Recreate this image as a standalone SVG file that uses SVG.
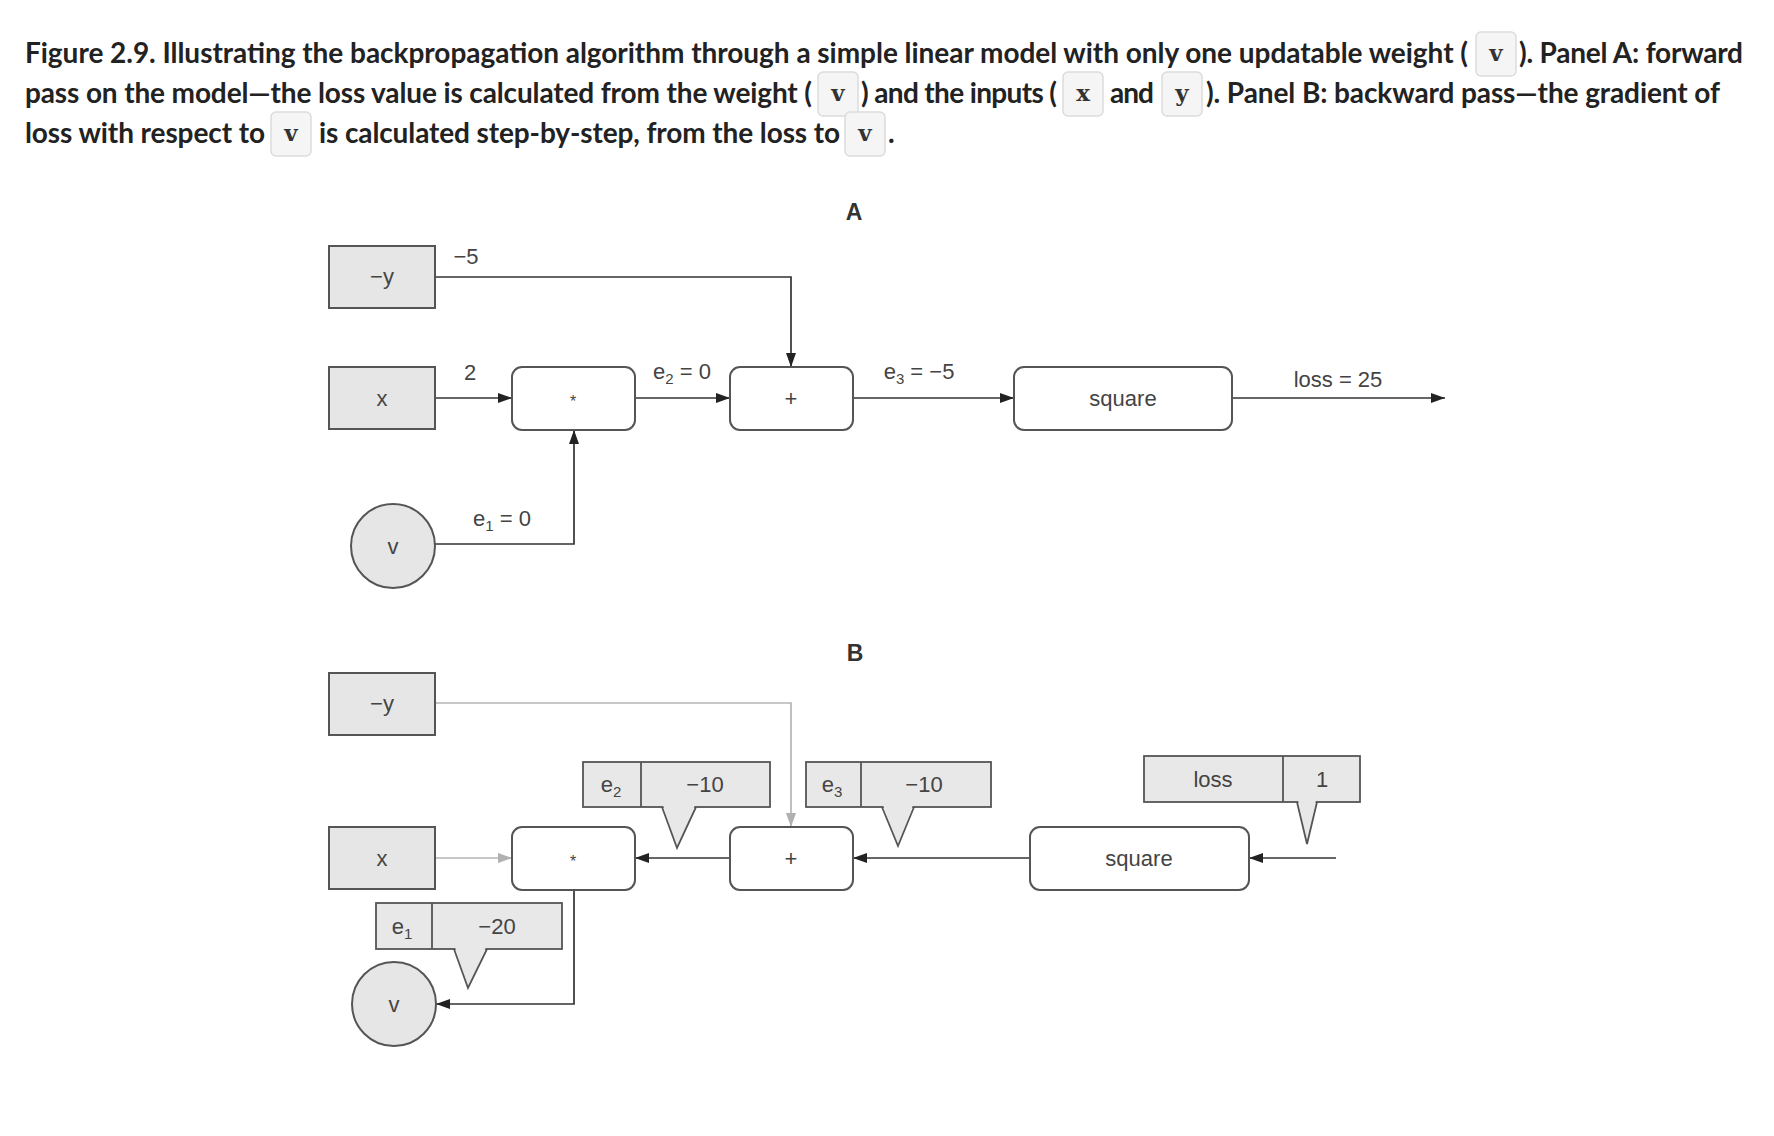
<svg xmlns="http://www.w3.org/2000/svg" width="1774" height="1136" viewBox="0 0 1774 1136">
<style>
.title{font-family:Lato,"Open Sans","Liberation Sans",sans-serif;font-weight:700;font-size:28px;fill:#222}
.code{font-family:"DejaVu Serif","Liberation Serif",serif;font-weight:700;font-size:23px;fill:#333;text-anchor:middle}
.cbox{fill:#f5f5f5;stroke:#dcdcdc;stroke-width:1.5}
.lbl{font-family:"Liberation Sans",Arial,sans-serif;font-size:22px;fill:#444;text-anchor:middle}
.sub{font-size:15px}
.panel{font-family:"Liberation Sans",Arial,sans-serif;font-size:23px;font-weight:700;fill:#333;text-anchor:middle}
.inp{fill:#e6e6e6;stroke:#555;stroke-width:2}
.op{fill:#fff;stroke:#555;stroke-width:2}
.call{fill:#e8e8e8;stroke:#555;stroke-width:1.8}
.ptr{fill:none;stroke:#555;stroke-width:1.8}
.ptrf{fill:#e8e8e8;stroke:none}
.dark{fill:none;stroke:#333;stroke-width:1.7}
.grey{fill:none;stroke:#b5b5b5;stroke-width:1.7}
</style>
<defs>
<marker id="ah" viewBox="0 0 14 10" refX="14" refY="5" markerWidth="14" markerHeight="10" markerUnits="userSpaceOnUse" orient="auto"><path d="M0,0 L14,5 L0,10 z" fill="#222"/></marker>
<marker id="ahg" viewBox="0 0 14 10" refX="14" refY="5" markerWidth="14" markerHeight="10" markerUnits="userSpaceOnUse" orient="auto"><path d="M0,0 L14,5 L0,10 z" fill="#b0b0b0"/></marker>
</defs>
<rect width="1774" height="1136" fill="#fff"/>

<g id="caption">
<text class="title" x="25" y="63" textLength="1443">Figure 2.9. Illustrating the backpropagation algorithm through a simple linear model with only one updatable weight (</text>
<rect class="cbox" x="1476" y="32" width="40" height="44" rx="5"/>
<text class="code" x="1496" y="61">v</text>
<text class="title" x="1519" y="63" textLength="224">). Panel A: forward</text>

<text class="title" x="25" y="103" textLength="787">pass on the model—the loss value is calculated from the weight (</text>
<rect class="cbox" x="818" y="72" width="40" height="44" rx="5"/>
<text class="code" x="838" y="101">v</text>
<text class="title" x="861" y="103" textLength="196">) and the inputs (</text>
<rect class="cbox" x="1063" y="72" width="40" height="44" rx="5"/>
<text class="code" x="1083" y="101">x</text>
<text class="title" x="1110" y="103" textLength="44">and</text>
<rect class="cbox" x="1162" y="72" width="40" height="44" rx="5"/>
<text class="code" x="1182" y="101">y</text>
<text class="title" x="1206" y="103" textLength="514">). Panel B: backward pass—the gradient of</text>

<text class="title" x="25" y="143" textLength="240">loss with respect to</text>
<rect class="cbox" x="271" y="112" width="40" height="44" rx="5"/>
<text class="code" x="291" y="141">v</text>
<text class="title" x="319" y="143" textLength="521">is calculated step-by-step, from the loss to</text>
<rect class="cbox" x="845" y="112" width="40" height="44" rx="5"/>
<text class="code" x="865" y="141">v</text>
<text class="title" x="888" y="143">.</text>
</g>

<text class="panel" x="854" y="220">A</text>
<text class="panel" x="855" y="661">B</text>

<g id="connectors">
<path class="dark" d="M435,277 H791 V367" marker-end="url(#ah)"/>
<path class="dark" d="M435,398 H512" marker-end="url(#ah)"/>
<path class="dark" d="M635,398 H730" marker-end="url(#ah)"/>
<path class="dark" d="M853,398 H1014" marker-end="url(#ah)"/>
<path class="dark" d="M1232,398 H1445" marker-end="url(#ah)"/>
<path class="dark" d="M435,544 H574 V430" marker-end="url(#ah)"/>

<path class="grey" d="M435,703 H791 V827" marker-end="url(#ahg)"/>
<path class="grey" d="M435,858 H512" marker-end="url(#ahg)"/>
<path class="dark" d="M730,858 H635" marker-end="url(#ah)"/>
<path class="dark" d="M1030,858 H853" marker-end="url(#ah)"/>
<path class="dark" d="M1336,858 H1249" marker-end="url(#ah)"/>
<path class="dark" d="M574,890 V1004 H436" marker-end="url(#ah)"/>
</g>

<g id="edge-labels">
<text class="lbl" x="466" y="264">−5</text>
<text class="lbl" x="470" y="380">2</text>
<text class="lbl" x="682" y="379">e<tspan class="sub" dy="5">2</tspan><tspan dy="-5"> = 0</tspan></text>
<text class="lbl" x="919" y="379">e<tspan class="sub" dy="5">3</tspan><tspan dy="-5"> = −5</tspan></text>
<text class="lbl" x="1338" y="387">loss = 25</text>
<text class="lbl" x="502" y="526">e<tspan class="sub" dy="5">1</tspan><tspan dy="-5"> = 0</tspan></text>
</g>

<g id="nodeA-neg-y"><rect class="inp" x="329" y="246" width="106" height="62"/><text class="lbl" x="382" y="284">−y</text></g>
<g id="nodeA-x"><rect class="inp" x="329" y="367" width="106" height="62"/><text class="lbl" x="382" y="406">x</text></g>
<g id="nodeA-mul"><rect class="op" x="512" y="367" width="123" height="63" rx="10"/><text class="lbl" x="573" y="407" style="font-size:16px">*</text></g>
<g id="nodeA-add"><rect class="op" x="730" y="367" width="123" height="63" rx="10"/><text class="lbl" x="791" y="406">+</text></g>
<g id="nodeA-square"><rect class="op" x="1014" y="367" width="218" height="63" rx="10"/><text class="lbl" x="1123" y="406">square</text></g>
<g id="nodeA-v"><circle class="inp" cx="393" cy="546" r="42"/><text class="lbl" x="393" y="554">v</text></g>

<g id="nodeB-neg-y"><rect class="inp" x="329" y="673" width="106" height="62"/><text class="lbl" x="382" y="711">−y</text></g>
<g id="nodeB-x"><rect class="inp" x="329" y="827" width="106" height="62"/><text class="lbl" x="382" y="866">x</text></g>
<g id="nodeB-mul"><rect class="op" x="512" y="827" width="123" height="63" rx="10"/><text class="lbl" x="573" y="867" style="font-size:16px">*</text></g>
<g id="nodeB-add"><rect class="op" x="730" y="827" width="123" height="63" rx="10"/><text class="lbl" x="791" y="866">+</text></g>
<g id="nodeB-square"><rect class="op" x="1030" y="827" width="219" height="63" rx="10"/><text class="lbl" x="1139" y="866">square</text></g>
<g id="nodeB-v"><circle class="inp" cx="394" cy="1004" r="42"/><text class="lbl" x="394" y="1012">v</text></g>

<g id="callout-e2">
<rect class="call" x="583" y="762" width="187" height="45"/>
<line class="ptr" x1="641" y1="762" x2="641" y2="807"/>
<polygon class="ptrf" points="663,805 677,848 695,805"/>
<path class="ptr" d="M662,807 L677,848 L696,807"/>
<text class="lbl" x="611" y="792">e<tspan class="sub" dy="5">2</tspan></text>
<text class="lbl" x="705" y="792">−10</text>
</g>
<g id="callout-e3">
<rect class="call" x="806" y="762" width="185" height="45"/>
<line class="ptr" x1="861" y1="762" x2="861" y2="807"/>
<polygon class="ptrf" points="883,805 898,846 913,805"/>
<path class="ptr" d="M882,807 L898,846 L914,807"/>
<text class="lbl" x="832" y="792">e<tspan class="sub" dy="5">3</tspan></text>
<text class="lbl" x="924" y="792">−10</text>
</g>
<g id="callout-loss">
<rect class="call" x="1144" y="756" width="216" height="46"/>
<line class="ptr" x1="1283" y1="756" x2="1283" y2="802"/>
<polygon class="ptrf" points="1298,800 1307,844 1316,800"/>
<path class="ptr" d="M1297,802 L1307,844 L1317,802"/>
<text class="lbl" x="1213" y="787">loss</text>
<text class="lbl" x="1322" y="787">1</text>
</g>
<g id="callout-e1">
<rect class="call" x="376" y="903" width="186" height="46"/>
<line class="ptr" x1="432" y1="903" x2="432" y2="949"/>
<polygon class="ptrf" points="455,947 468,988 486,947"/>
<path class="ptr" d="M454,949 L468,988 L487,949"/>
<text class="lbl" x="402" y="934">e<tspan class="sub" dy="5">1</tspan></text>
<text class="lbl" x="497" y="934">−20</text>
</g>
</svg>
